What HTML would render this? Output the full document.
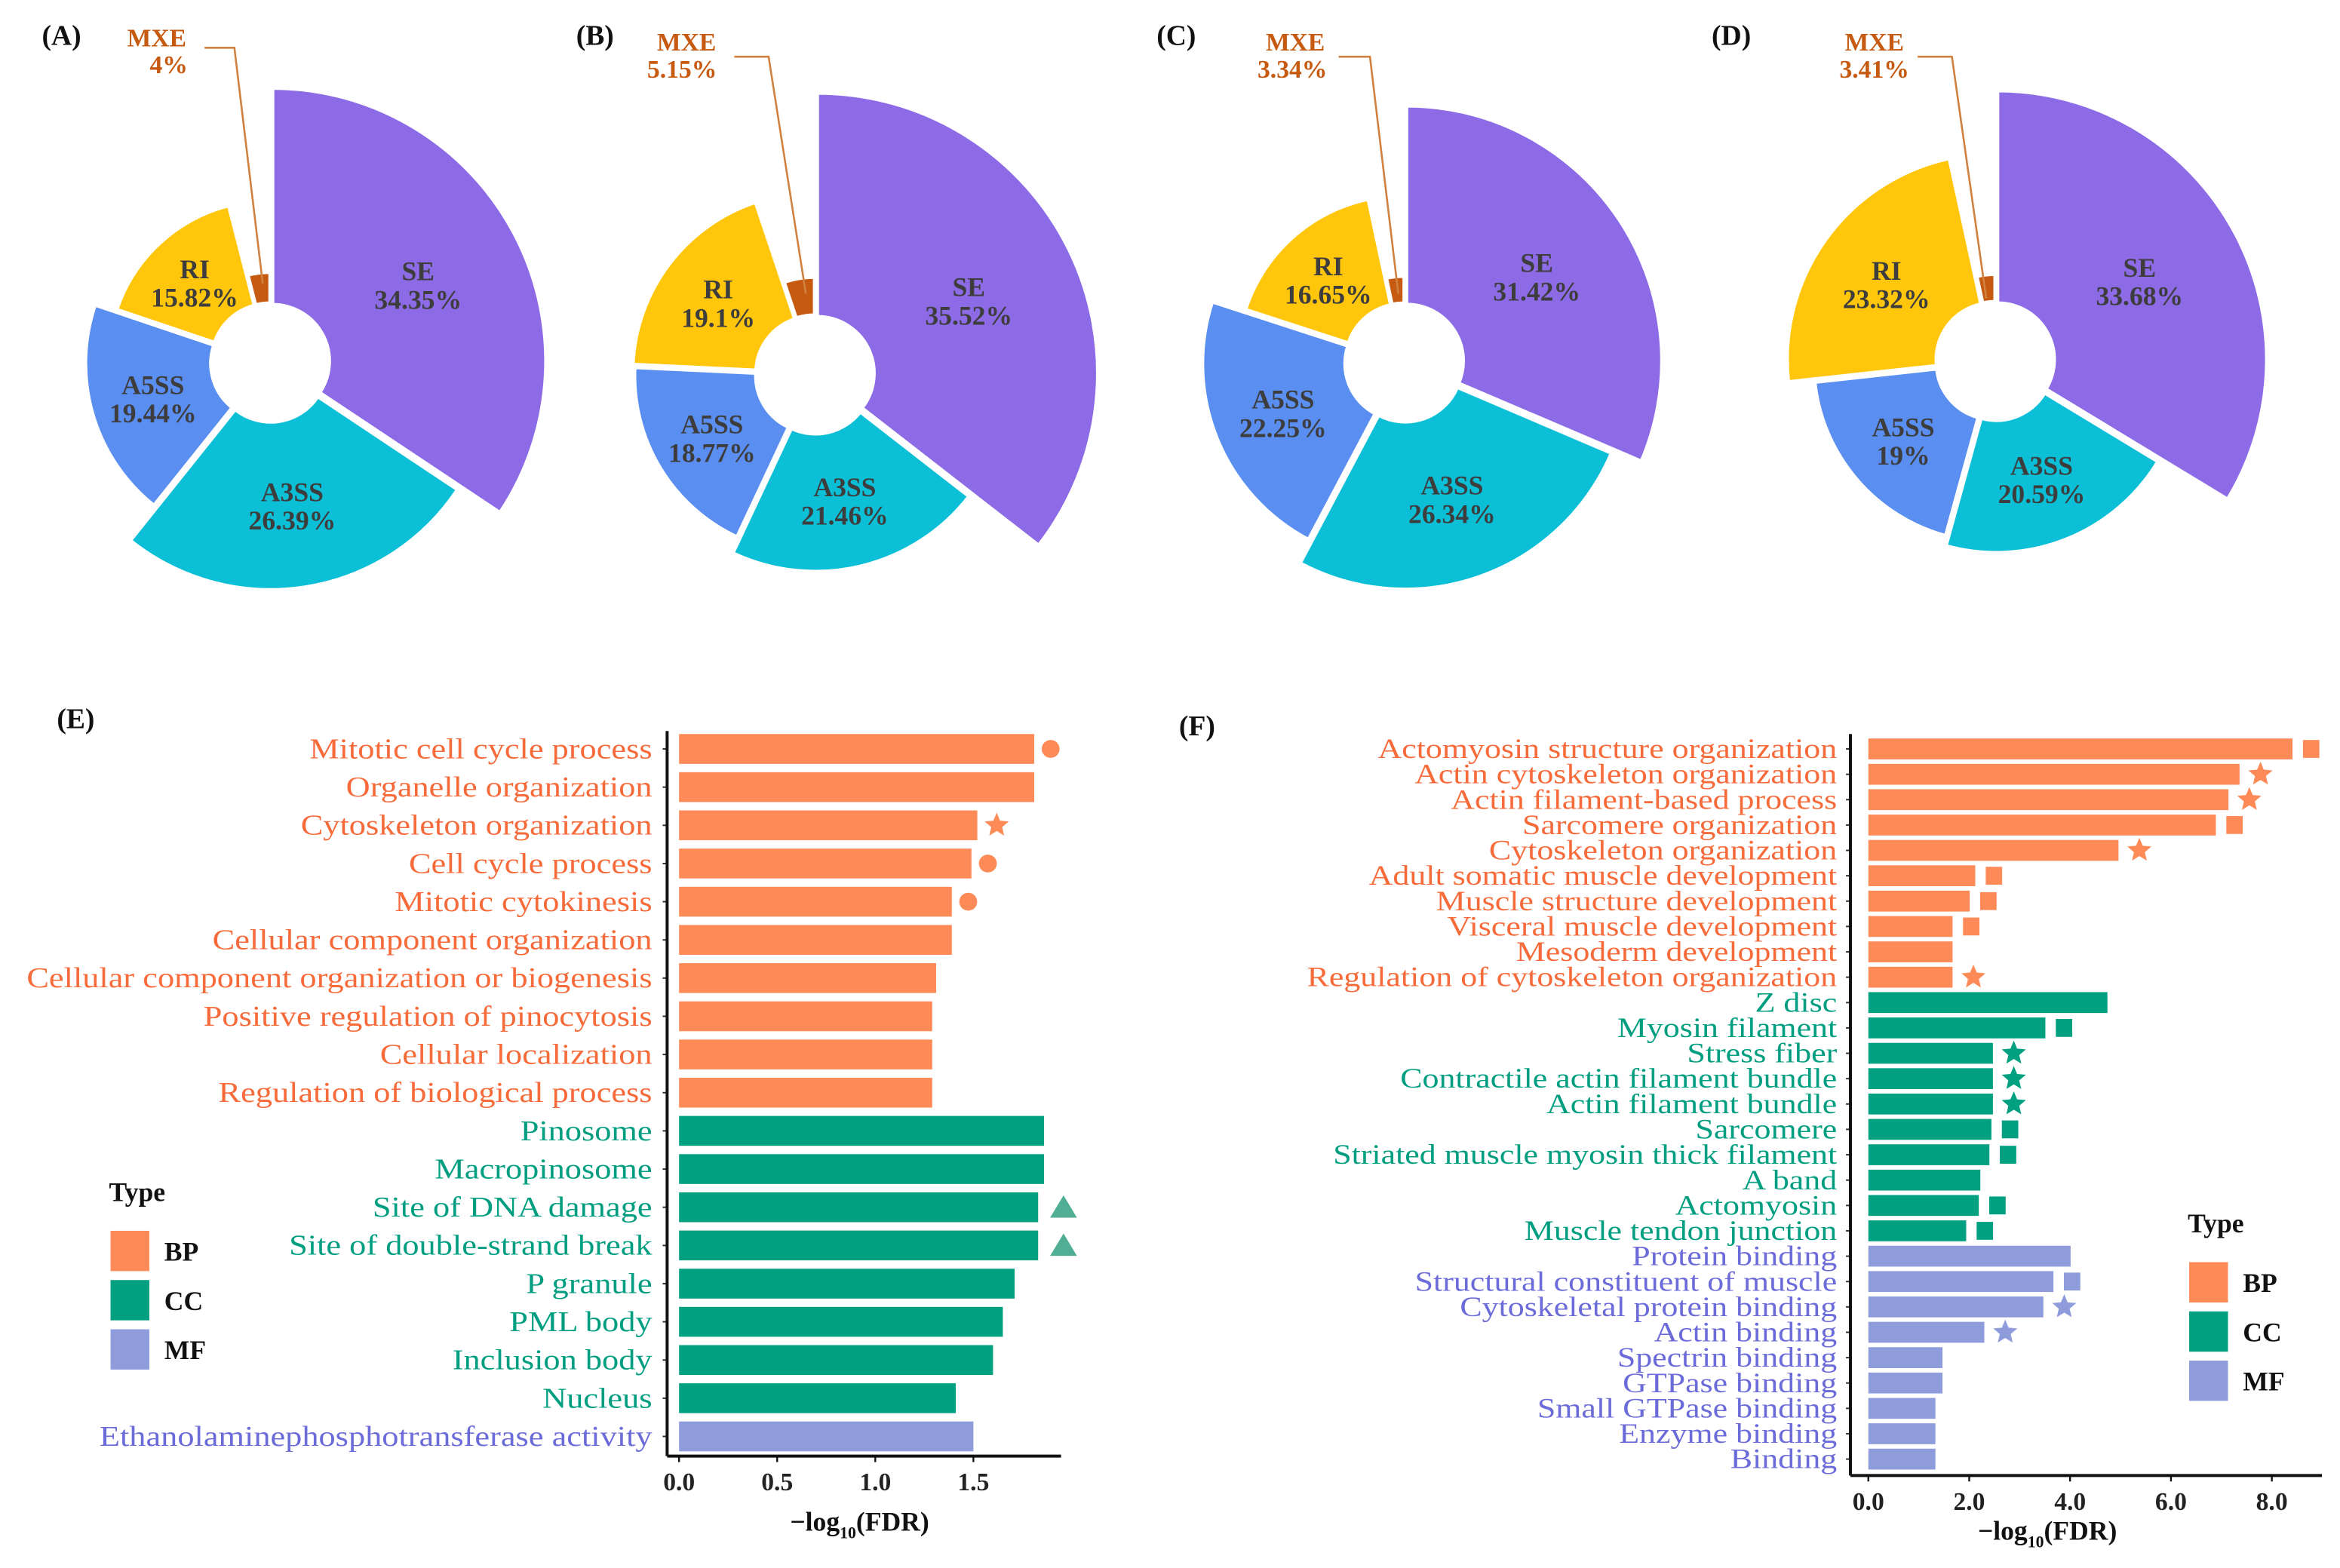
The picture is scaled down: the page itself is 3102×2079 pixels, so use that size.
<!DOCTYPE html>
<html><head><meta charset="utf-8">
<style>
html,body{margin:0;padding:0;background:#fff;}
svg{display:block;font-family:"Liberation Serif",serif;}
</style></head>
<body>
<svg id="fig" width="3102" height="2079" viewBox="0 0 1568 1051" xmlns="http://www.w3.org/2000/svg">
<rect x="0" y="0" width="1568" height="1051" fill="#fff"/>
<g id="pies"></g>
<g id="chartE"></g>
<g id="chartF"></g>
</svg>
<script>
// ---------- Pie data ----------
const pieTypes = ["SE","A3SS","A5SS","RI","MXE"];
const pieA = [34.35,26.39,19.44,15.82,4];
const pieB = [35.52,21.46,18.77,19.1,5.15];
const pieC = [31.42,26.34,22.25,16.65,3.34];
const pieD = [33.68,20.59,19,23.32,3.41];
const pieTitles = ["(A)","(B)","(C)","(D)"];
const pieMxeText = ["4%","5.15%","3.34%","3.41%"];

// ---------- Bar data E ----------
const catE = ["Mitotic cell cycle process","Organelle organization","Cytoskeleton organization","Cell cycle process","Mitotic cytokinesis","Cellular component organization","Cellular component organization or biogenesis","Positive regulation of pinocytosis","Cellular localization","Regulation of biological process","Pinosome","Macropinosome","Site of DNA damage","Site of double-strand break","P granule","PML body","Inclusion body","Nucleus","Ethanolaminephosphotransferase activity"];
const valE = [1.81,1.81,1.52,1.49,1.39,1.39,1.31,1.29,1.29,1.29,1.86,1.86,1.83,1.83,1.71,1.65,1.60,1.41,1.50];
const typeE = ["BP","BP","BP","BP","BP","BP","BP","BP","BP","BP","CC","CC","CC","CC","CC","CC","CC","CC","MF"];
const markE = ["circle","","star","circle","circle","","","","","","","","triangle","triangle","","","","",""];
const ticksE = [0,0.5,1.0,1.5];
const tickLabE = ["0.0","0.5","1.0","1.5"];

// ---------- Bar data F ----------
const catF = ["Actomyosin structure organization","Actin cytoskeleton organization","Actin filament-based process","Sarcomere organization","Cytoskeleton organization","Adult somatic muscle development","Muscle structure development","Visceral muscle development","Mesoderm development","Regulation of cytoskeleton organization","Z disc","Myosin filament","Stress fiber","Contractile actin filament bundle","Actin filament bundle","Sarcomere","Striated muscle myosin thick filament","A band","Actomyosin","Muscle tendon junction","Protein binding","Structural constituent of muscle","Cytoskeletal protein binding","Actin binding","Spectrin binding","GTPase binding","Small GTPase binding","Enzyme binding","Binding"];
const valF = [8.41,7.36,7.14,6.89,4.96,2.12,2.01,1.67,1.67,1.67,4.74,3.51,2.47,2.47,2.47,2.44,2.40,2.22,2.19,1.94,4.01,3.67,3.47,2.30,1.47,1.47,1.33,1.33,1.33];
const typeF = ["BP","BP","BP","BP","BP","BP","BP","BP","BP","BP","CC","CC","CC","CC","CC","CC","CC","CC","CC","CC","MF","MF","MF","MF","MF","MF","MF","MF","MF"];
const markF = ["square","star","star","square","star","square","square","square","","star","","square","star","star","star","square","square","","square","square","","square","star","star","","","","",""];
const ticksF = [0,2,4,6,8];
const tickLabF = ["0.0","2.0","4.0","6.0","8.0"];

const NS="http://www.w3.org/2000/svg";
function mk(tag, attrs, parent){const e=document.createElementNS(NS,tag);for(const k in attrs)e.setAttribute(k,attrs[k]);parent.appendChild(e);return e;}

const pieColors={SE:"#8d6be6",A3SS:"#0bbfd6",A5SS:"#5a8ef0",RI:"#ffc60b",MXE:"#c65a10"};
const typeBar={BP:"#fe8b57",CC:"#00a081",MF:"#8f9cdc"};
const typeText={BP:"#f76a3a",CC:"#009e80",MF:"#6b6bd9"};

// ---------- Pies ----------
const pieG=document.getElementById("pies");
const pieSets=[pieA,pieB,pieC,pieD];
const pieCenters=[[181,243],[546,251],[941,243],[1337,242]];
const pieTitlePos=[[28,30],[386,30],[775,30],[1147,30]];
const mxeLab=[[105,113,22],[460,457,25],[868,866,25],[1256,1256,25]];
const mxeLine=[[[137,32],[157,32],[176,190]],[[492,38],[515,38],[540,197]],[[897,38],[918,38],[937,197]],[[1285,38],[1308,38],[1331,200]]];
function rad(p){return 42+4.1*p;}
pieSets.forEach((vals,pi)=>{
  const g=mk("g",{},pieG);
  
  
  const [cx,cy]=pieCenters[pi];
  const total=vals.reduce((a,b)=>a+b,0);
  let a0=0;const rin=38;
  vals.forEach((v,i)=>{
    const sweep=v/total*2*Math.PI;const a1=a0+sweep;const am=(a0+a1)/2;
    const off=2;const ox=cx+off*Math.sin(am),oy=cy-off*Math.cos(am);
    const r=rad(v);
    const P=(rr,a)=>[ox+rr*Math.sin(a),oy-rr*Math.cos(a)];
    const [x1,y1]=P(r,a0),[x2,y2]=P(r,a1),[x3,y3]=P(rin,a1),[x4,y4]=P(rin,a0);
    const lg=sweep>Math.PI?1:0;
    const path=mk("path",{d:`M${x1},${y1}A${r},${r} 0 ${lg} 1 ${x2},${y2}L${x3},${y3}A${rin},${rin} 0 ${lg} 0 ${x4},${y4}Z`,fill:pieColors[pieTypes[i]],stroke:"#fff","stroke-width":2},g);
    
    
    if(pieTypes[i]!=="MXE"){
      const lr=(rin+r)/2+2;
      const lx=cx+lr*Math.sin(am),ly=cy-lr*Math.cos(am);
      const t=mk("text",{x:lx,y:ly-2,"text-anchor":"middle","font-size":18,"font-weight":"bold",fill:"#3d3d3d"},g);
      t.textContent=pieTypes[i];
      
      
      const t2=mk("text",{x:lx,y:ly+17,"text-anchor":"middle","font-size":18,"font-weight":"bold",fill:"#3d3d3d"},g);
      t2.textContent=v+"%";
      
      
    }
    a0=a1;
  });
  const ttl=mk("text",{x:pieTitlePos[pi][0],y:pieTitlePos[pi][1],"font-size":19,"font-weight":"bold",fill:"#111"},g);
  ttl.textContent=pieTitles[pi];
  
  
  const [mx1,mx2,my]=mxeLab[pi];
  const m1=mk("text",{x:mx1,y:my+9,"text-anchor":"middle","font-size":17,"font-weight":"bold",fill:"#c65a10"},g);
  m1.textContent="MXE";
  
  
  const m2=mk("text",{x:mx2,y:my+27,"text-anchor":"middle","font-size":17,"font-weight":"bold",fill:"#c65a10"},g);
  m2.textContent=pieMxeText[pi];
  
  
  const L=mxeLine[pi];
  const pl=mk("polyline",{points:L.map(p=>p.join(",")).join(" "),fill:"none",stroke:"#d0803f","stroke-width":1.3},g);
  
  
});

// ---------- Bar chart builder ----------
function star(cx,cy,r){let p=[];for(let k=0;k<10;k++){const a=-Math.PI/2+k*Math.PI/5;const rr=k%2?r*0.45:r;p.push((cx+rr*Math.cos(a)).toFixed(1)+","+(cy+rr*Math.sin(a)).toFixed(1));}return p.join(" ");}
function barChart(gid,cfg){
  const g=document.getElementById(gid);
  const {cats,vals,types,marks,ticks,tickLabs,x0,scale,axisX,axisEnd,y0,pitch,bh,yTop,yAxis,fs,stretch,labelX,title,titlePos,legend,markOff}=cfg;
  const X=v=>x0+v*scale;
  const Y=i=>y0+i*pitch;
  cats.forEach((c,i)=>{
    const b=mk("rect",{x:X(0),y:Y(i)-bh/2,width:X(vals[i])-X(0),height:bh,fill:typeBar[types[i]]},g);
    
    
    const t=mk("text",{x:labelX,y:Y(i)+fs*0.33,"text-anchor":"end","font-size":fs,fill:typeText[types[i]]},g);
    t.textContent=c;
    
    
    try{const w=t.getComputedTextLength();if(w>0){t.setAttribute("textLength",(w*stretch).toFixed(1));t.setAttribute("lengthAdjust","spacingAndGlyphs");}}catch(e){}
    mk("line",{x1:axisX-3,x2:axisX,y1:Y(i),y2:Y(i),stroke:"#333","stroke-width":1},g);
    const m=marks[i];const mx=X(vals[i])+markOff;const col=typeBar[types[i]];
    let el=null;
    if(m==="circle")el=mk("circle",{cx:mx,cy:Y(i),r:6,fill:col},g);
    else if(m==="star")el=mk("polygon",{points:star(mx+2,Y(i),8.5),fill:col},g);
    else if(m==="triangle")el=mk("polygon",{points:`${mx+6},${Y(i)-8} ${mx-3},${Y(i)+7} ${mx+15},${Y(i)+7}`,fill:"#4fae93"},g);
    else if(m==="square")el=mk("rect",{x:mx-5,y:Y(i)-bh/2+1,width:11,height:bh-2,fill:col},g);
    if(el){
      }
  });
  const ya=mk("line",{x1:axisX,x2:axisX,y1:yTop,y2:yAxis,stroke:"#111","stroke-width":2},g);
  
  
  const xa=mk("line",{x1:axisX,x2:axisEnd,y1:yAxis,y2:yAxis,stroke:"#111","stroke-width":2},g);
  
  
  ticks.forEach((tv,k)=>{
    mk("line",{x1:X(tv),x2:X(tv),y1:yAxis,y2:yAxis+4,stroke:"#111","stroke-width":1.2},g);
    const tl=mk("text",{x:X(tv),y:yAxis+23,"text-anchor":"middle","font-size":17,"font-weight":"bold",fill:"#222"},g);
    tl.textContent=tickLabs[k];
    
    
  });
  const tt=mk("text",{x:titlePos[0],y:titlePos[1],"text-anchor":"middle","font-size":18,"font-weight":"bold",fill:"#111"},g);
  
  
  tt.innerHTML='−log<tspan font-size="11" dy="5">10</tspan><tspan dy="-5">(FDR)</tspan>';
  const pl=mk("text",{x:title[1],y:title[2],"font-size":19,"font-weight":"bold",fill:"#111"},g);
  pl.textContent=title[0];
  
  
  const [lx,ly]=legend;
  const lt=mk("text",{x:lx,y:ly,"font-size":18,"font-weight":"bold",fill:"#111"},g);
  lt.textContent="Type";
  
  
  ["BP","CC","MF"].forEach((ty,k)=>{
    const r=mk("rect",{x:lx+1,y:ly+20+k*33,width:26,height:27,fill:typeBar[ty]},g);
    
    
    const t=mk("text",{x:lx+37,y:ly+40+k*33,"font-size":18,"font-weight":"bold",fill:"#111"},g);
    t.textContent=ty;
    
    
  });
}
barChart("chartE",{cats:catE,vals:valE,types:typeE,marks:markE,ticks:ticksE,tickLabs:tickLabE,
  x0:455,scale:131.5,axisX:447,axisEnd:711,y0:502,pitch:25.6,bh:20,yTop:490,yAxis:976,fs:19,stretch:1.18,labelX:437,
  title:["(E)",38,488],titlePos:[576,1026],legend:[73,805],markOff:11});
barChart("chartF",{cats:catF,vals:valF,types:typeF,marks:markF,ticks:ticksF,tickLabs:tickLabF,
  x0:1252,scale:33.8,axisX:1240,axisEnd:1556,y0:502,pitch:17.0,bh:14,yTop:492,yAxis:989,fs:18.5,stretch:1.2,labelX:1231,
  title:["(F)",790,493],titlePos:[1372,1032],legend:[1466,826],markOff:12});
</script>
</body></html>
